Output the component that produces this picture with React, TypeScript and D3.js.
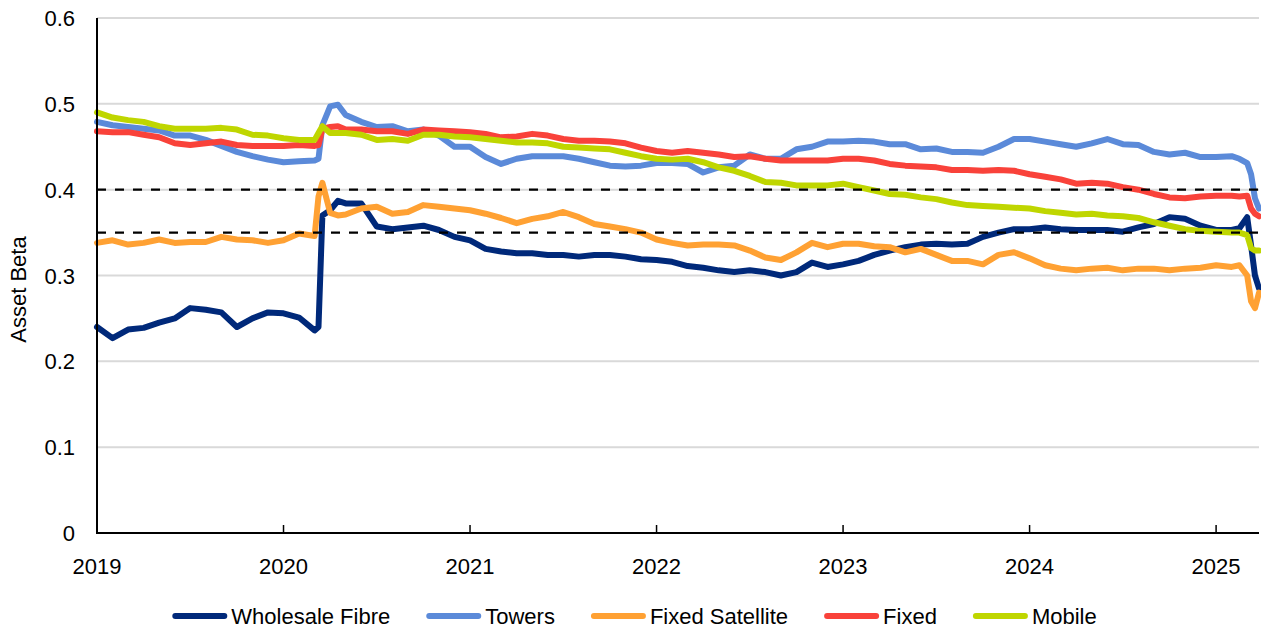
import React from "react";
import * as d3 from "d3";

// x grid: months since Jan 2019
const months = [
  0, 1, 2, 3, 4, 5, 6, 7, 8, 9, 10, 11, 12, 13, 14,
  14.25, 14.5, 15, 15.5,
  16, 17, 18, 19, 20, 21, 22, 23, 24, 25,
  26, 27, 28, 29, 30, 31, 32, 33, 34, 35,
  36, 37, 38, 39, 40, 41, 42, 43, 44, 45,
  46, 47, 48, 49, 50, 51, 52, 53, 54, 55,
  56, 57, 58, 59, 60, 61, 62, 63, 64, 65,
  66, 67, 68, 69, 70, 71, 72, 73,
  73.5, 74, 74.25, 74.5, 74.76,
];

const wholesaleFibre = [
  0.240, 0.227, 0.237, 0.239, 0.245, 0.250, 0.262, 0.260, 0.257, 0.240, 0.250, 0.257, 0.256, 0.251, 0.236,
  0.240, 0.370, 0.376, 0.387,
  0.384, 0.384, 0.357, 0.354, 0.356, 0.358, 0.353, 0.345, 0.341, 0.331,
  0.328, 0.326, 0.326, 0.324, 0.324, 0.322, 0.324, 0.324, 0.322, 0.319,
  0.318, 0.316, 0.311, 0.309, 0.306, 0.304, 0.306, 0.304, 0.300, 0.304,
  0.315, 0.310, 0.313, 0.317, 0.324, 0.329, 0.333, 0.336, 0.337, 0.336,
  0.337, 0.345, 0.350, 0.354, 0.354, 0.356, 0.354, 0.353, 0.353, 0.353,
  0.351, 0.356, 0.360, 0.368, 0.366, 0.358, 0.353, 0.353,
  0.355, 0.368, 0.335, 0.300, 0.285,
];

const towers = [
  0.479, 0.475, 0.473, 0.471, 0.469, 0.463, 0.463, 0.458, 0.451, 0.444, 0.439, 0.435, 0.432, 0.433, 0.434,
  0.436, 0.475, 0.497, 0.499,
  0.487, 0.479, 0.473, 0.474, 0.468, 0.470, 0.463, 0.450, 0.450, 0.438,
  0.430, 0.436, 0.439, 0.439, 0.439, 0.436, 0.432, 0.428, 0.427, 0.428,
  0.431, 0.431, 0.430, 0.420, 0.426, 0.428, 0.441, 0.436, 0.436, 0.447,
  0.450, 0.456, 0.456, 0.457, 0.456, 0.453, 0.453, 0.447, 0.448, 0.444,
  0.444, 0.443, 0.450, 0.459, 0.459, 0.456, 0.453, 0.450, 0.454, 0.459,
  0.453, 0.452, 0.444, 0.441, 0.443, 0.438, 0.438, 0.439,
  0.436, 0.431, 0.418, 0.390, 0.378,
];

const fixedSatellite = [
  0.338, 0.341, 0.336, 0.338, 0.342, 0.338, 0.339, 0.339, 0.345, 0.342, 0.341, 0.338, 0.341, 0.349, 0.346,
  0.392, 0.408, 0.373, 0.370,
  0.371, 0.378, 0.380, 0.372, 0.374, 0.382, 0.380, 0.378, 0.376, 0.372,
  0.367, 0.361, 0.366, 0.369, 0.374, 0.368, 0.360, 0.357, 0.354, 0.350,
  0.342, 0.338, 0.335, 0.336, 0.336, 0.335, 0.329, 0.321, 0.318, 0.327,
  0.338, 0.333, 0.337, 0.337, 0.334, 0.333, 0.327, 0.331, 0.324, 0.317,
  0.317, 0.313, 0.324, 0.327, 0.320, 0.312, 0.308, 0.306, 0.308, 0.309,
  0.306, 0.308, 0.308, 0.306, 0.308, 0.309, 0.312, 0.310,
  0.312, 0.300, 0.270, 0.262, 0.280,
];

const fixed = [
  0.468, 0.467, 0.467, 0.464, 0.461, 0.454, 0.452, 0.454, 0.456, 0.452, 0.451, 0.451, 0.451, 0.452, 0.451,
  0.452, 0.471, 0.473, 0.474,
  0.470, 0.470, 0.468, 0.468, 0.465, 0.470, 0.469, 0.468, 0.467, 0.465,
  0.461, 0.462, 0.465, 0.463, 0.459, 0.457, 0.457, 0.456, 0.454, 0.449,
  0.445, 0.443, 0.445, 0.443, 0.441, 0.438, 0.439, 0.436, 0.434, 0.434,
  0.434, 0.434, 0.436, 0.436, 0.434, 0.430, 0.428, 0.427, 0.426, 0.423,
  0.423, 0.422, 0.423, 0.422, 0.418, 0.415, 0.412, 0.407, 0.408, 0.407,
  0.403, 0.400, 0.395, 0.391, 0.390, 0.392, 0.393, 0.393,
  0.392, 0.393, 0.378, 0.372, 0.369,
];

const mobile = [
  0.490, 0.484, 0.481, 0.479, 0.474, 0.471, 0.471, 0.471, 0.472, 0.470, 0.464, 0.463, 0.460, 0.458, 0.458,
  0.466, 0.474, 0.466, 0.466,
  0.466, 0.464, 0.458, 0.459, 0.457, 0.464, 0.464, 0.462, 0.461, 0.459,
  0.457, 0.455, 0.455, 0.454, 0.450, 0.449, 0.448, 0.447, 0.443, 0.439,
  0.436, 0.435, 0.436, 0.432, 0.426, 0.422, 0.416, 0.409, 0.408, 0.405,
  0.405, 0.405, 0.407, 0.403, 0.399, 0.395, 0.394, 0.391, 0.389, 0.385,
  0.382, 0.381, 0.380, 0.379, 0.378, 0.375, 0.373, 0.371, 0.372, 0.370,
  0.369, 0.367, 0.362, 0.358, 0.354, 0.352, 0.351, 0.350,
  0.350, 0.347, 0.332, 0.329, 0.329,
];

const seriesNames = ["Wholesale Fibre", "Towers", "Fixed Satellite", "Fixed", "Mobile"];
const seriesValues = [wholesaleFibre, towers, fixedSatellite, fixed, mobile];
const seriesColors = ["#00297a", "#5b8ad9", "#ffa133", "#f9423a", "#bfd600"];

const yTicks = [0, 0.1, 0.2, 0.3, 0.4, 0.5, 0.6];
const yearLabels = ["2019", "2020", "2021", "2022", "2023", "2024", "2025"];
const yearTickMonths = [0, 12, 24, 36, 48, 60, 72];
const referenceLines = [0.4, 0.35];

const W = 1261;
const H = 630;
const FONT = "'Liberation Sans', Arial, sans-serif";
const FS = 22;

function textWidth(s: string): number {
  if (typeof document === "undefined") return s.length * FS * 0.5;
  const c = document.createElement("canvas");
  const ctx = c.getContext("2d");
  if (!ctx) return s.length * FS * 0.5;
  ctx.font = `${FS}px ${FONT}`;
  return ctx.measureText(s).width;
}

export default function App() {
  const x = d3.scaleLinear().domain([0, 74.76]).range([97, 1259]);
  const y = d3.scaleLinear().domain([0, 0.6]).range([533, 18]);

  const line = d3
    .line<number>()
    .x((_, i) => x(months[i]))
    .y((d) => y(d))
    .curve(d3.curveLinear);

  // legend layout
  const swatch = 55;
  const gapSwText = 4;
  const gapItems = 36;
  const widths = seriesNames.map(textWidth);
  const total =
    widths.reduce((a, b) => a + b, 0) +
    seriesNames.length * (swatch + gapSwText) +
    (seriesNames.length - 1) * gapItems;
  let cursor = 634.5 - total / 2;
  const legendItems = seriesNames.map((n, i) => {
    const item = { name: n, color: seriesColors[i], x0: cursor };
    cursor += swatch + gapSwText + widths[i] + gapItems;
    return item;
  });
  const legendY = 616;

  return (
    <div style={{ position: "absolute", left: 0, top: 0, width: W, height: H, background: "#fff" }}>
      <svg width={W} height={H} style={{ display: "block", fontFamily: FONT }}>
        <rect x={0} y={0} width={W} height={H} fill="#fff" />
        {/* gridlines */}
        {yTicks.slice(1).map((t) => (
          <line key={t} x1={x(0)} x2={x(74.76)} y1={y(t)} y2={y(t)} stroke="#d9d9d9" strokeWidth={2} />
        ))}
        {/* series */}
        {seriesValues.map((vals, i) => (
          <path
            key={seriesNames[i]}
            d={line(vals) || ""}
            fill="none"
            stroke={seriesColors[i]}
            strokeWidth={6}
            strokeLinejoin="round"
            strokeLinecap="round"
          />
        ))}
        {/* reference dashed lines */}
        {referenceLines.map((r) => (
          <line
            key={r}
            x1={x(0)}
            x2={x(74.76)}
            y1={y(r)}
            y2={y(r)}
            stroke="#000"
            strokeWidth={2.2}
            strokeDasharray="9 9"
          />
        ))}
        {/* axes */}
        <line x1={x(0)} x2={x(0)} y1={y(0.6)} y2={y(0) + 1} stroke="#000" strokeWidth={2} />
        <line x1={x(0) - 1} x2={x(74.76)} y1={y(0)} y2={y(0)} stroke="#000" strokeWidth={2} />
        {yearTickMonths.map((m) => (
          <line key={m} x1={x(m)} x2={x(m)} y1={y(0)} y2={y(0) - 8} stroke="#000" strokeWidth={1.5} />
        ))}
        {/* y tick labels */}
        {yTicks.map((t) => (
          <text key={t} x={75} y={y(t) + 8} textAnchor="end" fontSize={FS} fill="#000">
            {d3.format("~g")(t)}
          </text>
        ))}
        {/* x tick labels */}
        {yearLabels.map((l, i) => (
          <text key={l} x={x(yearTickMonths[i])} y={574} textAnchor="middle" fontSize={FS} fill="#000">
            {l}
          </text>
        ))}
        {/* y axis title */}
        <text
          transform={`translate(26, ${y(0.3) + 14}) rotate(-90)`}
          textAnchor="middle"
          fontSize={FS}
          fill="#000"
        >
          Asset Beta
        </text>
        {/* legend */}
        {legendItems.map((it) => (
          <g key={it.name}>
            <line
              x1={it.x0 + 3}
              x2={it.x0 + swatch - 3}
              y1={legendY}
              y2={legendY}
              stroke={it.color}
              strokeWidth={6}
              strokeLinecap="round"
            />
            <text x={it.x0 + swatch + gapSwText} y={legendY + 8} fontSize={FS} fill="#000">
              {it.name}
            </text>
          </g>
        ))}
      </svg>
    </div>
  );
}
